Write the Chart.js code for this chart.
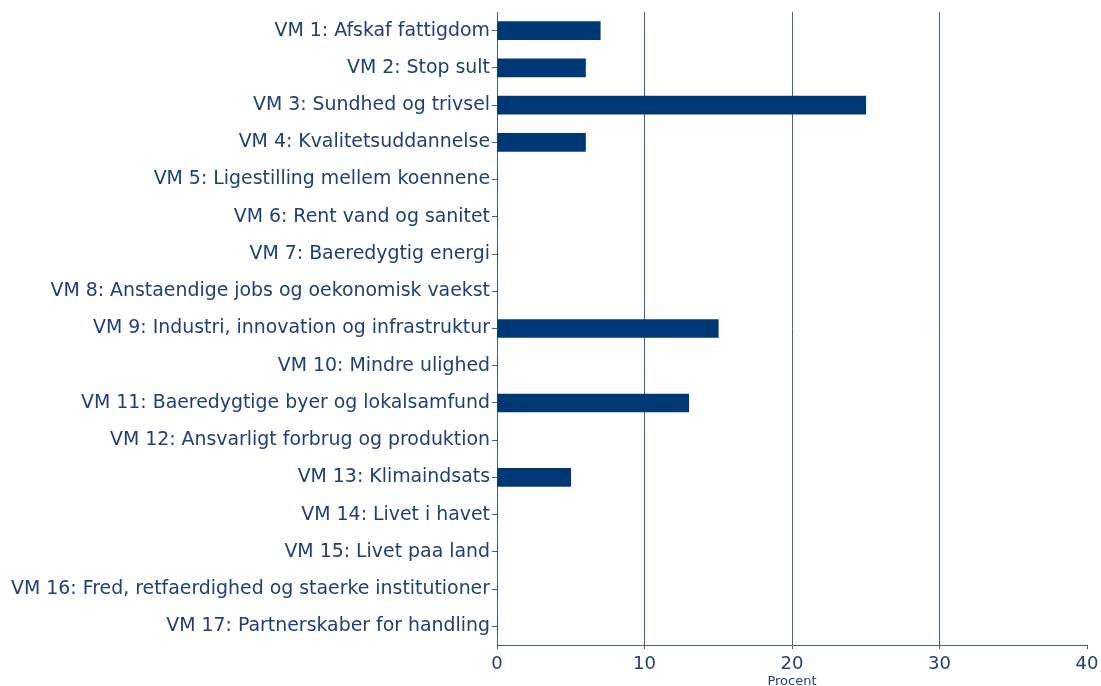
<!DOCTYPE html>
<html>
<head>
<meta charset="utf-8">
<script src="https://cdn.jsdelivr.net/npm/chart.js@4"></script>
<style>
  html, body { margin: 0; padding: 0; background: #fff; }
  #wrap { width: 1101px; height: 686px; }
</style>
</head>
<body>
<div id="wrap"><canvas id="goalChart" width="1101" height="686"></canvas></div>
<script>
var goals = [
  'VM 1: Afskaf fattigdom',
  'VM 2: Stop sult',
  'VM 3: Sundhed og trivsel',
  'VM 4: Kvalitetsuddannelse',
  'VM 5: Ligestilling mellem koennene',
  'VM 6: Rent vand og sanitet',
  'VM 7: Baeredygtig energi',
  'VM 8: Anstaendige jobs og oekonomisk vaekst',
  'VM 9: Industri, innovation og infrastruktur',
  'VM 10: Mindre ulighed',
  'VM 11: Baeredygtige byer og lokalsamfund',
  'VM 12: Ansvarligt forbrug og produktion',
  'VM 13: Klimaindsats',
  'VM 14: Livet i havet',
  'VM 15: Livet paa land',
  'VM 16: Fred, retfaerdighed og staerke institutioner',
  'VM 17: Partnerskaber for handling'
];
var percent = [7, 6, 25, 6, 0, 0, 0, 0, 15, 0, 13, 0, 5, 0, 0, 0, 0];
var xTicks = [0, 10, 20, 30, 40];

var navy = '#003876';
var textBlue = '#1d3f7c';
var lineBlue = '#3f5f95';
var fontName = "'DejaVu Sans', sans-serif";

var ctx = document.getElementById('goalChart');
var chart = new Chart(ctx, {
  type: 'bar',
  data: {
    labels: goals,
    datasets: [{
      label: 'Procent',
      data: percent,
      backgroundColor: navy,
      borderWidth: 0,
      barThickness: 18
    }]
  },
  options: {
    indexAxis: 'y',
    responsive: false,
    animation: false,
    layout: { padding: { top: 12, right: 14, left: 0, bottom: 0 } },
    scales: {
      x: {
        min: xTicks[0],
        max: xTicks[xTicks.length - 1],
        afterBuildTicks: function (axis) {
          axis.ticks = xTicks.map(function (v) { return { value: v }; });
        },
        afterFit: function (axis) {
          axis.height = 41;
          axis.paddingLeft = 0;
          axis.paddingRight = 0;
        },
        border: { color: lineBlue, width: 1 },
        grid: {
          color: function (c) {
            var v = c.tick && c.tick.value;
            return (v === 0 || v === 40) ? 'rgba(0,0,0,0)' : lineBlue;
          },
          tickColor: lineBlue,
          tickLength: 4,
          lineWidth: 1
        },
        ticks: {
          color: textBlue,
          font: { family: fontName, size: 18 },
          padding: 5
        },
        title: {
          display: true,
          text: 'Procent',
          color: textBlue,
          font: { family: fontName, size: 13 },
          padding: { top: 0, bottom: -3 }
        }
      },
      y: {
        afterFit: function (axis) {
          axis.width = 497;
          axis.paddingTop = 0;
          axis.paddingBottom = 0;
        },
        border: { color: lineBlue, width: 1 },
        grid: {
          drawOnChartArea: false,
          offset: false,
          color: lineBlue,
          tickLength: 5
        },
        ticks: {
          color: textBlue,
          font: { family: fontName, size: 18.9 },
          padding: 2,
          autoSkip: false
        }
      }
    },
    plugins: {
      legend: { display: false },
      tooltip: { enabled: false }
    }
  }
});
</script>
</body>
</html>
